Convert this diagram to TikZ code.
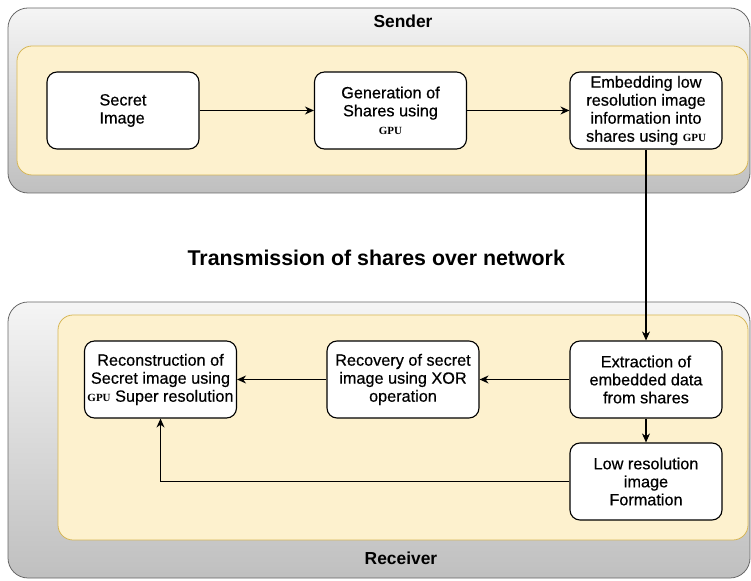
\documentclass[tikz,border=0pt]{standalone}
\usepackage{fontspec}
\setmainfont{Liberation Sans}
\newfontfamily\boxfont[FakeBold=0.5]{Liberation Sans}
\newfontfamily\gpufont{Liberation Serif}
\usetikzlibrary{arrows.meta,positioning}
\definecolor{paneFill}{HTML}{FDF1CE}
\definecolor{paneLine}{HTML}{D6B656}
\newcommand{\GPU}{{\gpufont\bfseries\fontsize{12.5}{13}\selectfont GPU}}

\begin{document}
\begin{tikzpicture}[
    box/.style={rectangle, draw, line width=1.3pt, rounded corners=0.4cm, fill=white,
        minimum width=6.08cm, minimum height=3.08cm, align=center, inner sep=1pt,
        font=\boxfont\fontsize{18.5}{20.5}\selectfont},
    outer/.style={draw=gray!80!black, line width=0.9pt, rounded corners=0.8cm, top color=gray!8, bottom color=gray!50},
    pane/.style={draw=paneLine, line width=0.9pt, fill=paneFill, rounded corners=0.6cm},
    label/.style={font=\bfseries\fontsize{19.8}{22}\selectfont},
    arrow/.style={-{Stealth[length=3.6mm, width=3.2mm]}, line width=1.2pt}
]
\useasboundingbox (0,0) rectangle (30.04,23.2);

% Sender side
\draw[outer] (0.32,15.48) rectangle (30.0,22.88);
\draw[pane] (0.68,16.2) rectangle (29.92,21.36);
\node[label] (sender) at (16.12,22.36) {Sender};

\node[box, align=left] (secret) at (4.92,18.78) {Secret\\Image};
\node[box] (shares) at (15.62,18.78) {Generation of\\Shares using\\\GPU};
\node[box] (embed) at (25.84,18.78) {Embedding low\\resolution image\\information into\\shares using \GPU};

\draw[arrow] (secret) -- (shares);
\draw[arrow] (shares) -- (embed);

% Network in between
\node[font=\bfseries\fontsize{24.3}{26}\selectfont] (net) at (15.05,12.88) {Transmission of shares over network};

% Receiver side
\draw[outer] (0.32,0.08) rectangle (30.0,11.12);
\draw[pane] (2.32,1.6) rectangle (29.92,10.6);
\node[label] (receiver) at (16.04,0.88) {Receiver};

\node[box] (rebuild) at (6.42,8.02) {Reconstruction of\\Secret image using\\\GPU\ Super resolution};
\node[box] (recover) at (16.12,8.02) {Recovery of secret\\image using XOR\\operation};
\node[box] (extract) at (25.84,8.02) {Extraction of\\embedded data\\from shares};
\node[box] (lowres) at (25.84,3.94) {Low resolution\\image\\Formation};

\draw[arrow] (embed) -- (extract);
\draw[arrow] (extract) -- (recover);
\draw[arrow] (recover) -- (rebuild);
\draw[arrow] (extract) -- (lowres);
\draw[arrow] (lowres.west) -| (rebuild.south);

\end{tikzpicture}
\end{document}
